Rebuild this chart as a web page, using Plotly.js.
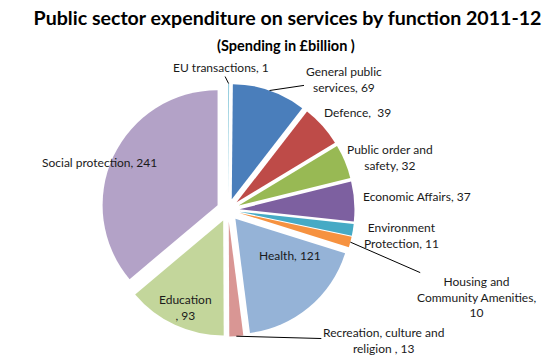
<!DOCTYPE html>
<html>
<head>
<meta charset="utf-8">
<script src="https://cdn.plot.ly/plotly-3.0.1.min.js"></script>
<style>html,body{margin:0;padding:0;background:#fff;}#chart{width:554px;height:356px;}</style>
</head>
<body>
<div id="chart"></div>
<script>
// ---- data ----
const categories = ["EU transactions", "General public services", "Defence", "Public order and safety", "Economic Affairs", "Environment Protection", "Housing and Community Amenities", "Health", "Recreation, culture and religion", "Education", "Social protection"];
const values = [1, 69, 39, 32, 37, 11, 10, 121, 13, 93, 241];
const labelText = ["EU transactions, 1", "General public<br>services, 69", "Defence,  39", "Public order and<br>safety, 32", "Economic Affairs, 37", "Environment<br>Protection, 11", "Housing and<br>Community Amenities,<br>10", "Health, 121", "Recreation, culture and<br>religion , 13", "Education<br>, 93", "Social protection, 241"];

// ---- styles / layout ----
const colors = ["#93CDDD", "#4A7EBB", "#BE4B48", "#98B954", "#7D60A0", "#46AAC5", "#F69240", "#95B3D7", "#D99694", "#C3D69B", "#B3A2C7"];
const W = 554, H = 356;
const PULL = 0.1;
const domX = [0.1832, 0.6399], domY = [0.0548, 0.7654];
// label offsets from slice outer-edge midpoint (pixels, +dy = down); leader = draw line
const labelOffsets = [
  {dx: -8, dy: -16, leader: true},
  {dx: 74, dy: -11, leader: true},
  {dx: 35, dy: -13},
  {dx: 45, dy: -4},
  {dx: 63, dy: -5},
  {dx: 49, dy: 6},
  {dx: 126, dy: 55, leader: true},
  {dx: -19, dy: -51},
  {dx: 147, dy: 4, leader: true},
  {dx: 11, dy: -17},
  {dx: -14, dy: 6}
];
const FONT = "Lato, 'Open Sans', sans-serif";

// geometry of the pie (same formula Plotly uses)
const boxW = (domX[1] - domX[0]) * W, boxH = (domY[1] - domY[0]) * H;
const r = Math.min(boxW, boxH) / (2 + 2 * PULL);
const cx = W * (domX[0] + domX[1]) / 2;
const cy = H * (1 - domY[0]) - boxH / 2;
const total = values.reduce((a, b) => a + b, 0);

const annotations = [];
let cum = 0;
values.forEach((v, i) => {
  const mid = (cum + v / 2) / total * 2 * Math.PI;
  cum += v;
  const R = r * (1 + PULL);
  const px = cx + R * Math.sin(mid);
  const py = cy - R * Math.cos(mid);
  const o = labelOffsets[i];
  const a = {
    x: px / W, y: 1 - py / H, xref: "paper", yref: "paper",
    xanchor: "center", yanchor: "middle",
    text: labelText[i],
    font: {family: FONT, size: 12, color: "#1a1a1a"},
    align: "center"
  };
  if (o.leader) {
    Object.assign(a, {showarrow: true, ax: o.dx, ay: o.dy, axref: "pixel", ayref: "pixel",
      arrowhead: 0, arrowwidth: 1, arrowcolor: "#000000", standoff: 0, startstandoff: 0});
  } else {
    Object.assign(a, {showarrow: false, xshift: o.dx, yshift: -o.dy});
  }
  annotations.push(a);
});

annotations.push({
  text: "<b>(Spending in £billion )</b>",
  x: 286 / W, y: 1 - 45 / H, xref: "paper", yref: "paper",
  xanchor: "center", yanchor: "middle",
  showarrow: false, font: {family: FONT, size: 14.5, color: "#000000"}
});

const trace = {
  type: "pie",
  labels: categories,
  values: values,
  textinfo: "none",
  sort: false,
  direction: "clockwise",
  rotation: 0,
  pull: PULL,
  marker: {colors: colors, line: {color: "#ffffff", width: 0}},
  domain: {x: domX, y: domY},
  hoverinfo: "label+value",
  showlegend: false
};

const layout = {
  width: W, height: H,
  margin: {l: 0, r: 0, t: 0, b: 0},
  paper_bgcolor: "#ffffff",
  title: {
    text: "<b>Public sector expenditure on services by function 2011-12</b>",
    font: {family: FONT, size: 19.6, color: "#000000"},
    x: 0.519, xanchor: "center", xref: "container",
    y: 1 - 18 / H, yanchor: "middle", yref: "container"
  },
  annotations: annotations,
  showlegend: false
};

Plotly.newPlot("chart", [trace], layout, {displayModeBar: false, staticPlot: true});
</script>
</body>
</html>
